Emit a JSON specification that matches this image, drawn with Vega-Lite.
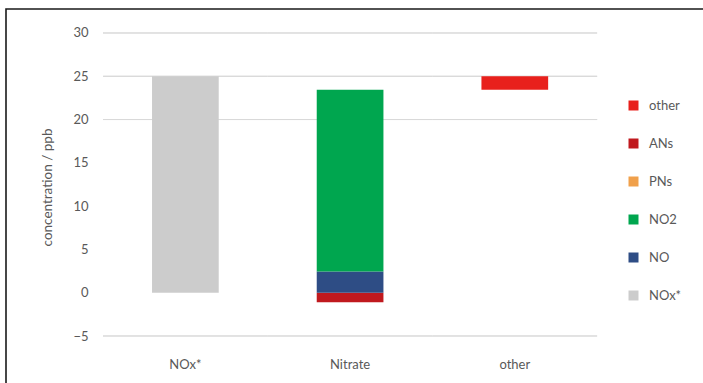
{
  "$schema": "https://vega.github.io/schema/vega-lite/v6.json",
  "width": 701,
  "height": 378,
  "autosize": {"type": "none"},
  "padding": {"left": 6, "top": 9, "right": 0, "bottom": 0},
  "background": "white",
  "config": {
    "view": {"stroke": "#1a1a1a", "strokeWidth": 1.6},
    "font": "Lato"
  },
  "layer": [
    {
      "data": {
        "values": [
          {"g": 30, "cats": ["NOx*", "Nitrate", "other"]},
          {"g": 25, "cats": ["NOx*", "Nitrate", "other"]},
          {"g": 20, "cats": ["NOx*", "Nitrate", "other"]},
          {"g": -5, "cats": ["NOx*", "Nitrate", "other"]}
        ]
      },
      "transform": [{"flatten": ["cats"]}],
      "mark": {"type": "bar", "width": {"band": 1}, "fill": "transparent", "stroke": "#D9D9D9", "strokeWidth": 1},
      "encoding": {
        "x": {
          "field": "cats",
          "type": "nominal",
          "sort": ["NOx*", "Nitrate", "other"],
          "scale": {"domain": ["NOx*", "Nitrate", "other"], "paddingInner": 0, "paddingOuter": 0.628, "align": 0.469},
          "axis": {"orient": "bottom", "offset": -42, "domain": false, "ticks": false, "labelPadding": 13, "labelFontSize": 13, "labelColor": "#595959", "labelAngle": 0, "title": null}
        },
        "y": {
          "field": "g",
          "type": "quantitative",
          "scale": {"domain": [-10.89, 32.77], "nice": false, "zero": false},
          "axis": {"values": [-5, 0, 5, 10, 15, 20, 25, 30], "grid": false, "domain": false, "ticks": false, "offset": -92, "labelPadding": 10, "labelFontSize": 13, "labelColor": "#595959", "title": "concentration / ppb", "titleFontSize": 13.5, "titleFontWeight": "normal", "titleColor": "#595959", "titlePadding": 18, "titleY": 178}
        },
        "y2": {"field": "g"}
      }
    },
    {
      "data": {
        "values": [
          {"cat": "NOx*", "series": "NOx*", "lo": 0, "hi": 25},
          {"cat": "Nitrate", "series": "ANs", "lo": -1.1, "hi": 0},
          {"cat": "Nitrate", "series": "NO", "lo": 0, "hi": 2.45},
          {"cat": "Nitrate", "series": "NO2", "lo": 2.45, "hi": 23.45},
          {"cat": "other", "series": "other", "lo": 23.45, "hi": 25}
        ]
      },
      "mark": {"type": "bar", "width": {"band": 0.405}},
      "encoding": {
        "x": {"field": "cat", "type": "nominal"},
        "y": {"field": "lo", "type": "quantitative"},
        "y2": {"field": "hi"},
        "color": {
          "field": "series",
          "type": "nominal",
          "scale": {
            "domain": ["other", "ANs", "PNs", "NO2", "NO", "NOx*"],
            "range": ["#E8201C", "#C0191E", "#F0A04B", "#00A64F", "#2E4D85", "#CCCCCC"]
          },
          "legend": {
            "orient": "none",
            "legendX": 621,
            "legendY": 90,
            "direction": "vertical",
            "title": null,
            "symbolType": "square",
            "symbolSize": 100,
            "symbolStrokeWidth": 0,
            "labelFontSize": 13,
            "labelColor": "#595959",
            "labelOffset": 9,
            "rowPadding": 24
          }
        }
      }
    }
  ]
}
